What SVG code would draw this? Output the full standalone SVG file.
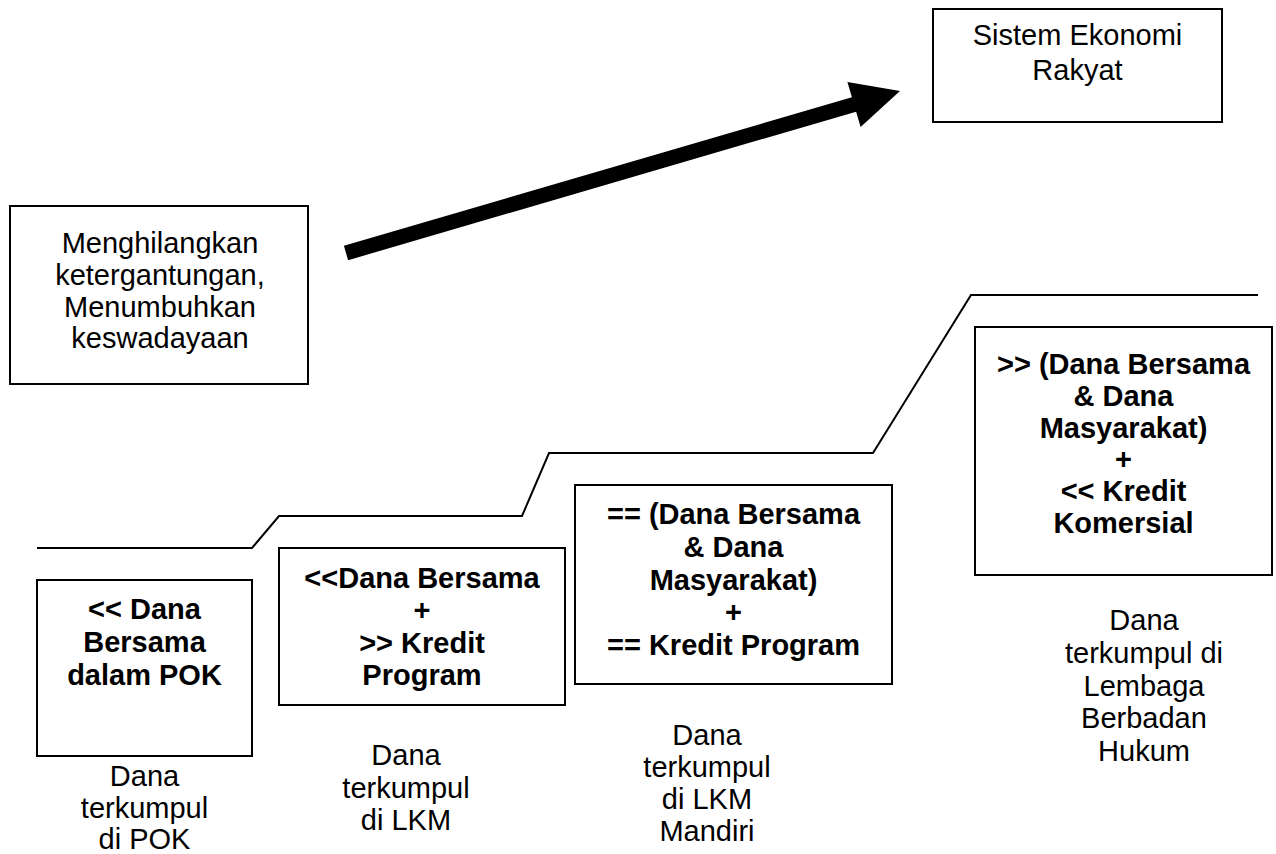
<svg xmlns="http://www.w3.org/2000/svg" width="1276" height="854" viewBox="0 0 1276 854">
  <style>
    .box { fill: #ffffff; stroke: #000000; stroke-width: 2; }
    .t { font-family: "Liberation Sans", Arial, sans-serif; font-size: 29px; fill: #000000; text-anchor: middle; }
    .b { font-weight: bold; }
    .step { fill: none; stroke: #000000; stroke-width: 2; stroke-linejoin: miter; }
  </style>
  <rect width="1276" height="854" fill="#ffffff"/>

  <!-- staircase of growth stages -->
  <g id="steps">
    <polyline class="step" points="37,548 252,548 279,516 522,516 549,453 873,453 971,295 1258,295"/>
  </g>

  <!-- thick arrow towards the goal -->
  <g id="connectors">
    <polygon points="343.9,245.8 851.9,97.3 847.4,81.9 900,91 860.6,127.1 856.1,111.7 348.1,260.2" fill="#000000"/>
  </g>

  <g id="goal">
    <rect class="box" x="933" y="9" width="289" height="113"/>
    <text class="t" x="1077.5" y="45">Sistem Ekonomi</text>
    <text class="t" x="1077.5" y="80">Rakyat</text>
  </g>

  <g id="aim">
    <rect class="box" x="10" y="206" width="298" height="178"/>
    <text class="t" x="160" y="253">Menghilangkan</text>
    <text class="t" x="160" y="285">ketergantungan,</text>
    <text class="t" x="160" y="317">Menumbuhkan</text>
    <text class="t" x="160" y="348">keswadayaan</text>
  </g>

  <g id="stage-pok">
    <rect class="box" x="37" y="580" width="215" height="176"/>
    <text class="t b" x="144.5" y="619">&lt;&lt; Dana</text>
    <text class="t b" x="144.5" y="652">Bersama</text>
    <text class="t b" x="144.5" y="685">dalam POK</text>
    <text class="t" x="144.5" y="786">Dana</text>
    <text class="t" x="144.5" y="818">terkumpul</text>
    <text class="t" x="144.5" y="849">di POK</text>
  </g>

  <g id="stage-lkm">
    <rect class="box" x="279" y="548" width="286" height="157"/>
    <text class="t b" x="422" y="588">&lt;&lt;Dana Bersama</text>
    <text class="t b" x="422" y="620">+</text>
    <text class="t b" x="422" y="653">&gt;&gt; Kredit</text>
    <text class="t b" x="422" y="685">Program</text>
    <text class="t" x="406" y="765">Dana</text>
    <text class="t" x="406" y="798">terkumpul</text>
    <text class="t" x="406" y="830">di LKM</text>
  </g>

  <g id="stage-lkm-mandiri">
    <rect class="box" x="575" y="485" width="317" height="199"/>
    <text class="t b" x="733.5" y="524">== (Dana Bersama</text>
    <text class="t b" x="733.5" y="557">&amp; Dana</text>
    <text class="t b" x="733.5" y="590">Masyarakat)</text>
    <text class="t b" x="733.5" y="622">+</text>
    <text class="t b" x="733.5" y="655">== Kredit Program</text>
    <text class="t" x="707" y="745">Dana</text>
    <text class="t" x="707" y="777">terkumpul</text>
    <text class="t" x="707" y="809">di LKM</text>
    <text class="t" x="707" y="841">Mandiri</text>
  </g>

  <g id="stage-badan-hukum">
    <rect class="box" x="975" y="327" width="297" height="248"/>
    <text class="t b" x="1123.5" y="374">&gt;&gt; (Dana Bersama</text>
    <text class="t b" x="1123.5" y="406">&amp; Dana</text>
    <text class="t b" x="1123.5" y="438">Masyarakat)</text>
    <text class="t b" x="1123.5" y="469">+</text>
    <text class="t b" x="1123.5" y="501">&lt;&lt; Kredit</text>
    <text class="t b" x="1123.5" y="533">Komersial</text>
    <text class="t" x="1144" y="630">Dana</text>
    <text class="t" x="1144" y="663">terkumpul di</text>
    <text class="t" x="1144" y="696">Lembaga</text>
    <text class="t" x="1144" y="728">Berbadan</text>
    <text class="t" x="1144" y="761">Hukum</text>
  </g>
</svg>
